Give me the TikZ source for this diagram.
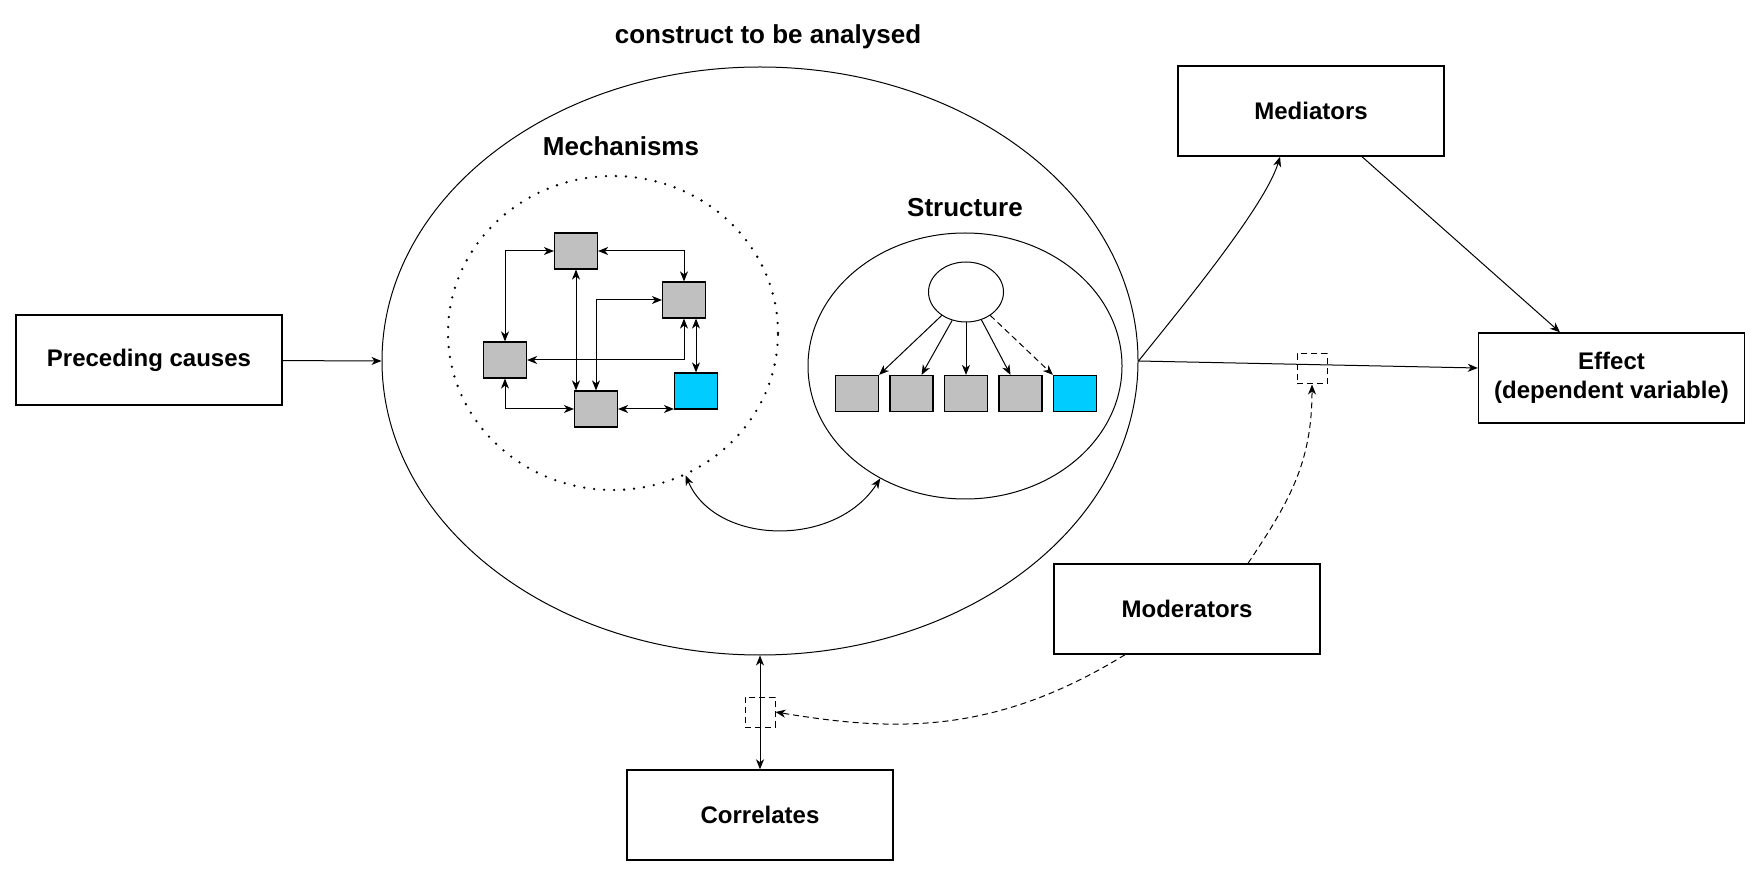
\documentclass[tikz,border=0pt,12pt]{standalone}
\usepackage{fontspec}
\setmainfont{Liberation Sans}
\usetikzlibrary{shapes.geometric,arrows.meta}
\definecolor{boxgray}{HTML}{C0C0C0}
\definecolor{boxcyan}{HTML}{00CCFF}
\tikzset{
  bigbox/.style={draw,line width=0.7pt,minimum width=133pt,minimum height=45pt,font=\bfseries,align=center},
  smallbox/.style={draw,line width=0.6pt,fill=boxgray,minimum width=21.5pt,minimum height=18pt,inner sep=0pt},
  modbox/.style={draw,dashline,line width=0.5pt,minimum size=15pt,inner sep=0pt},
  oval/.style={draw,ellipse,line width=0.5pt,inner sep=0pt},
  heading/.style={font=\bfseries\fontsize{13}{15.6}\selectfont},
  dashline/.style={dash pattern=on 3pt off 2pt},
}
\begin{document}
\begin{tikzpicture}[x=0.5pt,y=-0.5pt,>={Stealth[length=5pt,width=4pt,inset=1.5pt]},line width=0.5pt]
\useasboundingbox (0,0) rectangle (1760,876);
% construct with its two parts
\node[heading] (title) at (768,37) {construct to be analysed};
\node[oval,minimum width=378pt,minimum height=294pt] (construct) at (760,361) {};
\node[heading] (mechlabel) at (621,146) {Mechanisms};
\node[draw,ellipse,dash pattern=on 0pt off 5pt,line cap=round,line width=1.3pt,minimum width=165pt,minimum height=157pt] (mechanisms) at (613,333) {};
\node[heading] (structlabel) at (965,208) {Structure};
\node[oval,minimum width=157pt,minimum height=133pt] (structure) at (965,366) {};
% structure: latent variable and indicators
\node[oval,minimum width=37.5pt,minimum height=30pt] (latent) at (966,292) {};
\foreach \i/\x in {1/857,2/911.5,3/966,4/1020.5}
\node[smallbox] (ind\i) at (\x,393.5) {};
\node[smallbox,fill=boxcyan] (ind5) at (1075,393.5) {};
\draw[->] (latent.-136) -- (ind1.north east);
\draw[->] (latent.-116) -- ([xshift=5pt]ind2.north);
\draw[->] (latent.-90) -- (ind3.north);
\draw[->] (latent.-61) -- ([xshift=-5pt]ind4.north);
\draw[->,dashline] (latent.-44) -- (ind5.north west);
% mechanisms
\node[smallbox] (mA) at (576,251) {};
\node[smallbox] (mB) at (684,300) {};
\node[smallbox] (mC) at (505,360) {};
\node[smallbox] (mD) at (596,409) {};
\node[smallbox,fill=boxcyan] (mE) at (696,391) {};
\draw[<->] (mC.north) |- (mA.west);
\draw[<->] (mA.east) -| (mB.north);
\draw[<->] (mA.south) -- (mA.south |- mD.north);
\draw[<->] (mD.north) |- (mB.west);
\draw[<->] (mB.south) |- (mC.east);
\draw[<->] (mE.north) -- (mE.north |- mB.south);
\draw[<->] (mC.south) |- (mD.west);
\draw[<->] (mD.east) -- (mD.east -| mE.west);
\draw[<->] (mechanisms.-63) .. controls +(30,70) and +(-45,70) .. (structure.-127);
% surrounding variables
\node[bigbox] (preceding) at (149,360) {Preceding causes};
\node[bigbox] (mediators) at (1311,111) {Mediators};
\node[bigbox] (effect) at (1611.5,378) {Effect\\(dependent variable)};
\node[bigbox] (moderators) at (1187,609) {Moderators};
\node[bigbox] (correlates) at (760,815) {Correlates};
\node[modbox] (effmod) at (1312,369) {};
\node[modbox] (cormod) at (760,712) {};
\draw[->] (preceding) -- (construct.west);
\draw[->] (construct.east) -- ([yshift=5pt]effect.west);
\draw[->] (construct.east) .. controls +(40,-50) and +(-15,50) .. ([xshift=-15.5pt]mediators.south);
\draw[->] ([xshift=25.5pt]mediators.south) -- ([xshift=-25.75pt]effect.north);
\draw[<->] (construct.south) -- (correlates.north);
\draw[->,dashline] ([xshift=30.5pt]moderators.north) .. controls +(40,-60) and +(0,80) .. (effmod.south);
\draw[->,dashline] ([xshift=-31pt]moderators.south) .. controls +(-130,80) and +(120,20) .. (cormod.east);
\end{tikzpicture}
\end{document}
